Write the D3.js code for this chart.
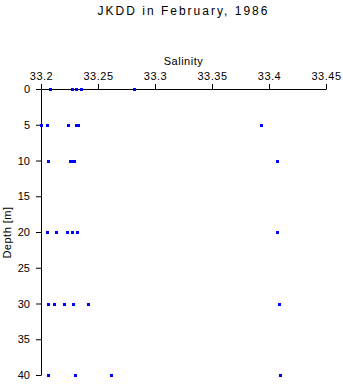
<!DOCTYPE html>
<html>
<head>
<meta charset="utf-8">
<script src="https://cdn.jsdelivr.net/npm/d3@7"></script>
<style>
html,body{margin:0;padding:0;background:#fff;}
svg{display:block;}
text{font-family:Arial,"Liberation Sans",Helvetica,sans-serif;fill:#000;}
</style>
</head>
<body>
<svg id="chart" width="343" height="384"></svg>
<script>
// ---- data ----
const title = "JKDD in February, 1986";
const xLabel = "Salinity";
const yLabel = "Depth [m]";
const salinityTicks = [33.2, 33.25, 33.3, 33.35, 33.4, 33.45];
const depthTicks = [0, 5, 10, 15, 20, 25, 30, 35, 40];
const depths = [0, 5, 10, 20, 30, 40];
const sal0  = [33.2075, 33.227, 33.231, 33.235, 33.282];
const sal5  = [33.200, 33.205, 33.224, 33.231, 33.2325, 33.393];
const sal10 = [33.206, 33.225, 33.227, 33.229, 33.407];
const sal20 = [33.2055, 33.213, 33.223, 33.227, 33.232, 33.407];
const sal30 = [33.206, 33.211, 33.220, 33.228, 33.241, 33.409];
const sal40 = [33.206, 33.230, 33.261, 33.4095];
const salinityByDepth = [sal0, sal5, sal10, sal20, sal30, sal40];

const points = [];
depths.forEach((d, i) => salinityByDepth[i].forEach(s => points.push({depth: d, sal: s})));

// ---- chart ----
const svg = d3.select("#chart");
const x = d3.scaleLinear().domain([33.2, 33.45]).range([41, 326]);
const y = d3.scaleLinear().domain([0, 40]).range([89, 375]);

svg.append("text")
  .attr("x", 183.5).attr("y", 14.5)
  .attr("text-anchor", "middle")
  .style("font-size", "12px").style("letter-spacing", "2px")
  .text(title);

svg.append("text")
  .attr("x", 183.5).attr("y", 64.5)
  .attr("text-anchor", "middle")
  .style("font-size", "11px").style("letter-spacing", "0.5px")
  .text(xLabel);

const xAxis = svg.append("g")
  .call(d3.axisTop(x).tickValues(salinityTicks).tickSize(5).tickSizeOuter(0)
        .tickFormat(d3.format("")));
xAxis.attr("transform", "translate(0,89)");
xAxis.selectAll("text").style("font-size", "11px").style("letter-spacing", "0.5px")
  .attr("font-family", null).attr("y", -9);

const yAxis = svg.append("g")
  .attr("transform", "translate(41,0)")
  .call(d3.axisLeft(y).tickValues(depthTicks).tickSize(5).tickSizeOuter(0));
yAxis.selectAll("text").style("font-size", "11px").attr("font-family", null).attr("x", -11);

svg.selectAll(".domain, .tick line").attr("stroke", "#000");

svg.append("text")
  .attr("transform", "translate(10.5,232.5) rotate(-90)")
  .attr("text-anchor", "middle")
  .style("font-size", "11px").style("letter-spacing", "0.5px")
  .text(yLabel);

svg.append("g").selectAll("rect")
  .data(points).join("rect")
  .attr("x", d => x(d.sal) - 1)
  .attr("y", d => y(d.depth) - 1)
  .attr("width", 3).attr("height", 3)
  .attr("fill", "#0000ff")
  .attr("shape-rendering", "crispEdges");
</script>
</body>
</html>
